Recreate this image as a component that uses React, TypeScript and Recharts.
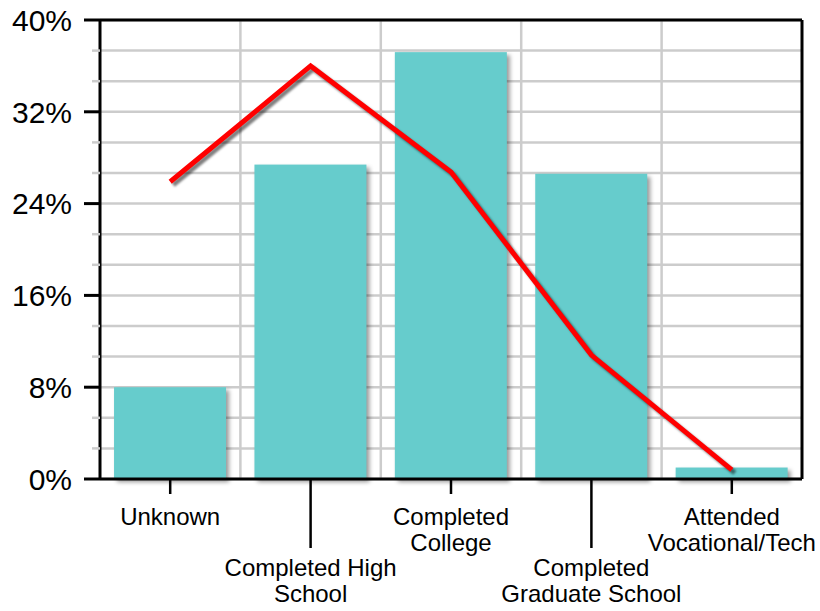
import React from 'react';
import { ComposedChart, Bar, Line, XAxis, YAxis, CartesianGrid, ReferenceLine } from 'recharts';

const categories = [
  'Unknown',
  'Completed High\nSchool',
  'Completed\nCollege',
  'Completed\nGraduate School',
  'Attended\nVocational/Tech',
];
const barValues = [8.0, 27.4, 37.2, 26.6, 1.0];
const lineValues = [25.9, 36.0, 26.75, 10.8, 0.8];
const majorTicks = [0, 8, 16, 24, 32, 40];
const gridYTicks = [0, 2.667, 5.333, 8, 10.667, 13.333, 16, 18.667, 21.333, 24, 26.667, 29.333, 32, 34.667, 37.333, 40];

const data = categories.map((c, i) => ({ name: c, bar: barValues[i], line: lineValues[i] }));

const FONT = '"Liberation Sans", Arial, Helvetica, sans-serif';

const XTick = (props: any) => {
  const { x, y, payload, index } = props;
  const long = index % 2 === 1;
  const len = long ? 69 : 15;
  const base = long ? 97 : 46;
  const lines = String(payload.value).split('\n');
  return (
    <g>
      <line x1={x} x2={x} y1={y} y2={y + len} stroke="#000" strokeWidth={2.5} />
      <text textAnchor="middle" fontSize={24} fontFamily={FONT} fill="#000">
        {lines.map((l, i) => (
          <tspan key={i} x={x} y={y + base + i * 26}>
            {l}
          </tspan>
        ))}
      </text>
    </g>
  );
};

const YTick = (props: any) => {
  const { x, y, payload } = props;
  const v = Number(payload.value);
  const major = majorTicks.some((m) => Math.abs(m - v) < 0.01);
  if (!major) {
    return <line x1={x - 8} x2={x} y1={y} y2={y} stroke="#cccccc" strokeWidth={2.5} />;
  }
  return (
    <g>
      <line x1={x - 16} x2={x} y1={y} y2={y} stroke="#000" strokeWidth={3} />
      <text x={x - 28} y={y} dy="0.36em" textAnchor="end" fontSize={30} fontFamily={FONT} fill="#000">
        {`${Math.round(v)}%`}
      </text>
    </g>
  );
};

const ShadowBar = (p: any) => (
  <rect x={p.x} y={p.y} width={p.width} height={p.height} fill="#66CCCC" className="barshadow" />
);

const verticalGen = (args: any) => {
  const xAxis = args?.xAxis;
  if (xAxis && typeof xAxis.scale === 'function') {
    return categories.slice(1).map((c) => xAxis.scale(c));
  }
  const off = args?.offset || { left: 100, width: 702 };
  return categories.slice(1).map((_, i) => off.left + (off.width * (i + 1)) / categories.length);
};

export default function App() {
  return (
    <div style={{ position: 'absolute', left: 0, top: 0, width: 820, height: 611, background: '#fff' }}>
      <style>{`
        .barshadow { filter: drop-shadow(3px 3px 2px rgba(0,0,0,0.4)); }
        .lineshadow { filter: drop-shadow(3px 3px 1px rgba(0,0,0,0.5)); }
      `}</style>
      <ComposedChart
        width={820}
        height={611}
        data={data}
        margin={{ top: 20, right: 18, left: 0, bottom: 0 }}
        barCategoryGap="10%"
      >
        <CartesianGrid stroke="#cccccc" strokeWidth={2.5} verticalCoordinatesGenerator={verticalGen} />
        <XAxis
          dataKey="name"
          height={132}
          interval={0}
          tickLine={false}
          tickSize={0}
          tickMargin={0}
          axisLine={{ stroke: '#000', strokeWidth: 3 }}
          tick={<XTick />}
        />
        <YAxis
          type="number"
          domain={[0, 40]}
          ticks={gridYTicks}
          interval={0}
          width={100}
          tickSize={0}
          tickMargin={0}
          tickLine={false}
          axisLine={{ stroke: '#000', strokeWidth: 3 }}
          tick={<YTick />}
        />
        <Bar dataKey="bar" shape={<ShadowBar />} isAnimationActive={false} />
        <Line
          dataKey="line"
          type="linear"
          stroke="#ff0000"
          strokeWidth={5}
          dot={false}
          activeDot={false}
          className="lineshadow"
          isAnimationActive={false}
        />
        <ReferenceLine y={40} stroke="#000" strokeWidth={3} />
        <ReferenceLine x={categories[4]} position="end" stroke="#000" strokeWidth={3} />
      </ComposedChart>
    </div>
  );
}
